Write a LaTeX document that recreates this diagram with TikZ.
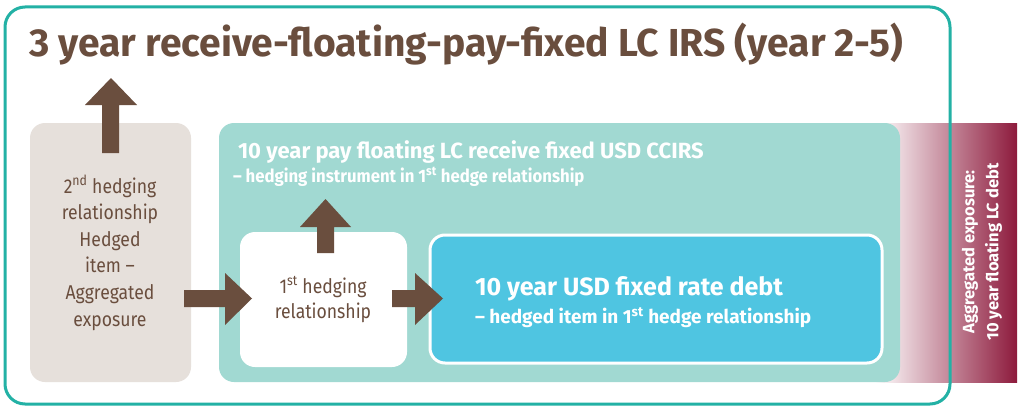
\documentclass[tikz,border=0pt]{standalone}
\usepackage{fontspec}
\setmainfont{Fira Sans}
\newfontfamily\condf{Fira Sans}[FakeStretch=0.93]
\newfontfamily\regf{Fira Sans}[FakeStretch=0.88]
\usetikzlibrary{shapes.geometric}
\definecolor{brn}{HTML}{6A4E3E}
\definecolor{greybox}{HTML}{E6E0DB}
\definecolor{tealbox}{HTML}{A1D9D2}
\definecolor{tealline}{HTML}{23B1A5}
\definecolor{bluebox}{HTML}{4FC5E1}
\definecolor{darkred}{HTML}{8D1A3C}
\tikzset{
  box/.style={rounded corners=15pt},
  blockarrow/.style={fill=brn, draw=none},
  lbl/.style={inner sep=0pt, outer sep=0pt}
}
\begin{document}
\begin{tikzpicture}[x=1pt,y=-1pt]
\useasboundingbox (0,0) rectangle (1025,412);
\fill[white] (0,0) rectangle (1025,412);
% gradient exposure band
\shade[left color=white, right color=darkred] (875,123) coordinate (gA) rectangle (1017,382);
% boxes
\fill[box, greybox] (30,123) rectangle (191,382) coordinate (greyBR);
\fill[box, tealbox] (219,123) rectangle (900,382);
\fill[box, white] (240,232) rectangle (407,367);
\draw[box, fill=bluebox, draw=white, line width=3pt] (430,235) rectangle (882,363);
% outer frame
\draw[tealline, line width=3pt, rounded corners=20pt] (5,7) rectangle (950,404);
% block arrows
\fill[blockarrow] (102,153) -- (102,105) -- (85,105) -- (111,78) -- (137,105) -- (119,105) -- (119,153) -- cycle;
\fill[blockarrow] (317,253) -- (317,227) -- (300,227) -- (325.5,199) -- (351,227) -- (334,227) -- (334,253) -- cycle;
\fill[blockarrow] (184,290) -- (225,290) -- (225,273) -- (252,298.5) -- (225,325) -- (225,307) -- (184,307) -- cycle;
\fill[blockarrow] (392,290) -- (415,290) -- (415,273) -- (443,298.5) -- (415,325) -- (415,307) -- (392,307) -- cycle;
% texts
\node[lbl, anchor=base west, text=brn, font=\bfseries\fontsize{39}{44}\selectfont] (title) at (29,57) {3 year receive-floating-pay-fixed LC IRS (year 2-5)};
\node[lbl, anchor=base west, text=white, font=\bfseries\fontsize{22}{26}\selectfont] (ccirs) at (238,158) {10 year pay floating LC receive fixed USD CCIRS};
\node[lbl, anchor=base west, text=white, font=\condf\bfseries\fontsize{18}{22}\selectfont] (ccirssub) at (233,182) {– hedging instrument in 1\textsuperscript{st} hedge relationship};
\node[lbl, anchor=base west, text=white, font=\bfseries\fontsize{25}{28}\selectfont] (debt) at (475,295) {10 year USD fixed rate debt};
\node[lbl, anchor=base west, text=white, font=\bfseries\fontsize{19}{22}\selectfont] (debtsub) at (475,323) {– hedged item in 1\textsuperscript{st} hedge relationship};
\node[lbl, anchor=base, text=brn, align=center, font=\regf\fontsize{20}{26.6}\selectfont] (second) at (110,326) {2\textsuperscript{nd} hedging\\relationship\\Hedged\\item –\\Aggregated\\exposure};
\node[lbl, anchor=base, text=brn, align=center, font=\regf\fontsize{20}{25}\selectfont] (first) at (323,318) {1\textsuperscript{st} hedging\\relationship};
\node[lbl, rotate=90, text=white, align=center, font=\bfseries\fontsize{16.5}{24}\selectfont] (aggr) at (982,252) {Aggregated exposure:\\10 year floating LC debt};
\end{tikzpicture}
\end{document}
